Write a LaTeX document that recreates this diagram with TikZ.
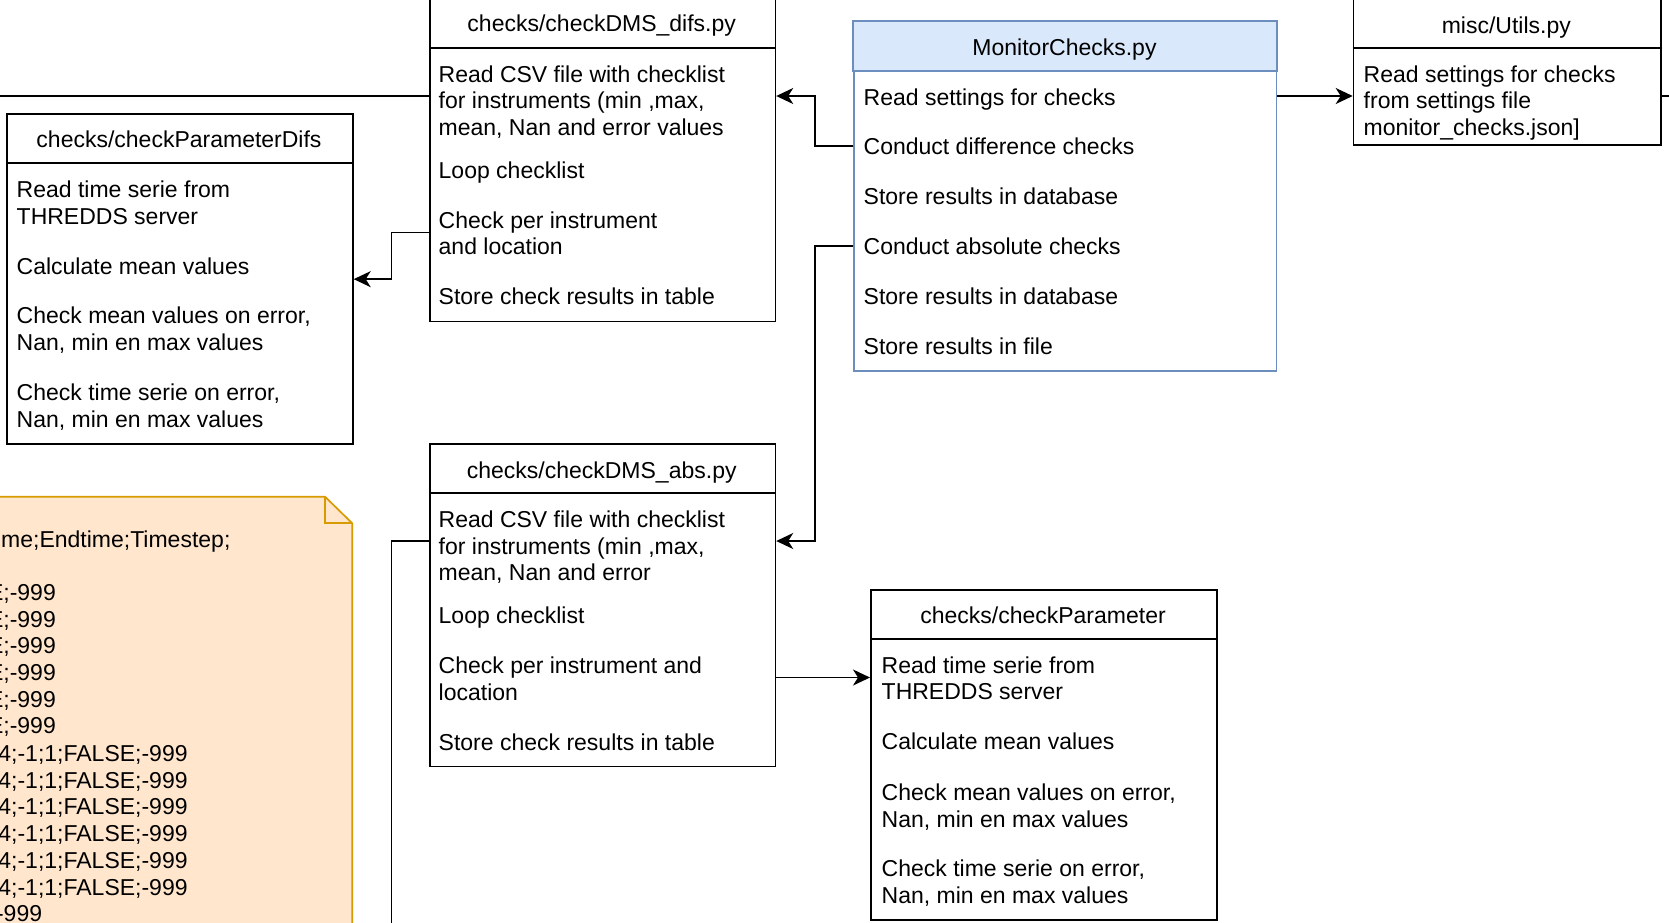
\documentclass[tikz,border=0pt]{standalone}
\usepackage{fontspec}
\setmainfont{Liberation Sans}
\usetikzlibrary{arrows.meta,calc}

\definecolor{hdrblue}{HTML}{DAE8FC}
\definecolor{edgeblue}{HTML}{6C8EBF}
\definecolor{notefill}{HTML}{FFE6CC}
\definecolor{noteedge}{HTML}{D79B00}

\newcommand{\fs}{\fontsize{23}{26.7}\selectfont}

% multi-line text nodes are placed by the baseline of their last line
\tikzset{
  cls/.style={rectangle, draw=black, line width=1.7pt, fill=white, inner sep=0pt, anchor=north west},
  hdline/.style={line width=1.7pt},
  txt/.style={anchor=base west, inner sep=0pt, align=left, font=\fs},
  hd/.style={anchor=base, inner sep=0pt, font=\fs},
  notetxt/.style={anchor=base east, inner sep=0pt, font=\fs},
  conn/.style={line width=1.7pt, draw=black},
  arr/.style={conn, -{Stealth[length=17pt,width=16pt,inset=5pt]}},
}

\begin{document}
\begin{tikzpicture}[x=1pt,y=-1pt]
\useasboundingbox (0,0) rectangle (1669,922);
\clip (0,0) rectangle (1669,922);

% ---------- note with the check list ----------
\filldraw[fill=notefill, draw=noteedge, line width=1.7pt]
  (-10,496.7) -- (325,496.7) -- (352.3,523.3) -- (352.3,940) -- (-10,940) -- cycle;
\draw[noteedge, line width=1.7pt] (325,496.7) -- (325,523.3) -- (352.3,523.3);
\node[notetxt] (nhead) at (230.6,547) {me;Endtime;Timestep;};
\foreach \y [count=\i] in {600.7,627,653.7,680.3,707,733.7}
  \node[notetxt] (na\i) at (56,\y) {E;-999};
\foreach \y [count=\i] in {761.3,788,814.7,841.3,868.7,895.3}
  \node[notetxt] (nb\i) at (187.8,\y) {4;-1;1;FALSE;-999};
\node[notetxt] (nend) at (42.3,921.3) {-999};

% ---------- checks/checkDMS_difs.py ----------
\node[cls, minimum width=345.5pt, minimum height=323pt] (difs) at (429,-2.3) {};
\draw[hdline] ([yshift=-50pt]difs.north west) -- ([yshift=-50pt]difs.north east);
\node[hd] (difsh) at (601.7,31.4) {checks/checkDMS\_difs.py};
\node[txt] (difs1) at (438.5,135.5) {Read CSV file with checklist\\for instruments (min ,max,\\mean, Nan and error values};
\node[txt] (difs2) at (438.5,178.7) {Loop checklist};
\node[txt] (difs3) at (438.5,254.7) {Check per instrument\\and location};
\node[txt] (difs4) at (438.5,304) {Store check results in table};

% ---------- checks/checkParameterDifs ----------
\node[cls, minimum width=346pt, minimum height=330pt] (pdifs) at (6,113.3) {};
\draw[hdline] ([yshift=-49.4pt]pdifs.north west) -- ([yshift=-49.4pt]pdifs.north east);
\node[hd] (pdifsh) at (179,147.3) {checks/checkParameterDifs};
\node[txt] (pdifs1) at (16.5,224.5) {Read time serie from\\THREDDS server};
\node[txt] (pdifs2) at (16.5,274.7) {Calculate mean values};
\node[txt] (pdifs3) at (16.5,350.5) {Check mean values on error,\\Nan, min en max values};
\node[txt] (pdifs4) at (16.5,427.4) {Check time serie on error,\\Nan, min en max values};

% ---------- MonitorChecks.py ----------
\node[cls, draw=edgeblue, minimum width=422.3pt, minimum height=349.3pt] (mon) at (853.3,20.7) {};
\filldraw[fill=hdrblue, draw=edgeblue, line width=1.7pt]
  (mon.north west) rectangle ([yshift=-50pt]mon.north east);
\node[hd] (monh) at (1064.5,55.3) {MonitorChecks.py};
\node[txt] (mon1) at (863.5,105.3) {Read settings for checks};
\node[txt] (mon2) at (863.5,154.7) {Conduct difference checks};
\node[txt] (mon3) at (863.5,204) {Store results in database};
\node[txt] (mon4) at (863.5,254) {Conduct absolute checks};
\node[txt] (mon5) at (863.5,304) {Store results in database};
\node[txt] (mon6) at (863.5,354) {Store results in file};

% ---------- misc/Utils.py ----------
\node[cls, minimum width=307.3pt, minimum height=146.3pt] (utils) at (1352.7,-2.3) {};
\draw[hdline] ([yshift=-50pt]utils.north west) -- ([yshift=-50pt]utils.north east);
\node[hd] (utilsh) at (1506.3,33) {misc/Utils.py};
\node[txt] (utils1) at (1363.5,135.5) {Read settings for checks\\from settings file\\monitor\_checks.json]};

% ---------- checks/checkDMS_abs.py ----------
\node[cls, minimum width=345.5pt, minimum height=322.4pt] (abs) at (429,443.3) {};
\draw[hdline] ([yshift=-49.4pt]abs.north west) -- ([yshift=-49.4pt]abs.north east);
\node[hd] (absh) at (601.7,478) {checks/checkDMS\_abs.py};
\node[txt] (abs1) at (438.5,580.9) {Read CSV file with checklist\\for instruments (min ,max,\\mean, Nan and error};
\node[txt] (abs2) at (438.5,623.7) {Loop checklist};
\node[txt] (abs3) at (438.5,700.5) {Check per instrument and\\location};
\node[txt] (abs4) at (438.5,750.7) {Store check results in table};

% ---------- checks/checkParameter ----------
\node[cls, minimum width=346pt, minimum height=330pt] (cp) at (870,589.3) {};
\draw[hdline] ([yshift=-50pt]cp.north west) -- ([yshift=-50pt]cp.north east);
\node[hd] (cph) at (1043,623) {checks/checkParameter};
\node[txt] (cp1) at (881.5,699.7) {Read time serie from\\THREDDS server};
\node[txt] (cp2) at (881.5,749.7) {Calculate mean values};
\node[txt] (cp3) at (881.5,827) {Check mean values on error,\\Nan, min en max values};
\node[txt] (cp4) at (881.5,903) {Check time serie on error,\\Nan, min en max values};

% ---------- connection points ----------
\coordinate (monr1) at (mon.west |- 0,96);
\coordinate (monr2) at (mon.west |- 0,146.3);
\coordinate (monr4) at (mon.west |- 0,246);
\coordinate (difsr3) at (difs.west |- 0,232.5);
\coordinate (absr1) at (abs.east |- 0,541);
\coordinate (absr3) at (abs.east |- 0,677.5);
\coordinate (elbowA) at ($(difs.east)!.5!(mon.west)$);
\coordinate (elbowB) at ($(pdifs.east)!.5!(difs.west)$);
\coordinate (leftend) at (-10,96);
\coordinate (rightend) at (1690,96);
\coordinate (bottomend) at (0,940);

% ---------- connectors ----------
\draw[conn] (leftend) -- (difs.west |- leftend);
\draw[arr] (mon.east |- monr1) -- (utils.west |- monr1);
\draw[conn] (utils.east |- rightend) -- (rightend);
\draw[arr] (monr2) -- (elbowA |- monr2) -- (elbowA |- monr1) -- (difs.east |- monr1);
\draw[arr] (monr4) -- (elbowA |- monr4) -- (elbowA |- absr1) -- (absr1);
\draw[arr] (difsr3) -- (elbowB |- difsr3) -- (elbowB |- pdifs.east) -- (pdifs.east);
\draw[conn] (abs.west |- absr1) -- (elbowB |- absr1) -- (elbowB |- bottomend);
\draw[arr] (absr3) -- (cp.west |- absr3);
\end{tikzpicture}
\end{document}
